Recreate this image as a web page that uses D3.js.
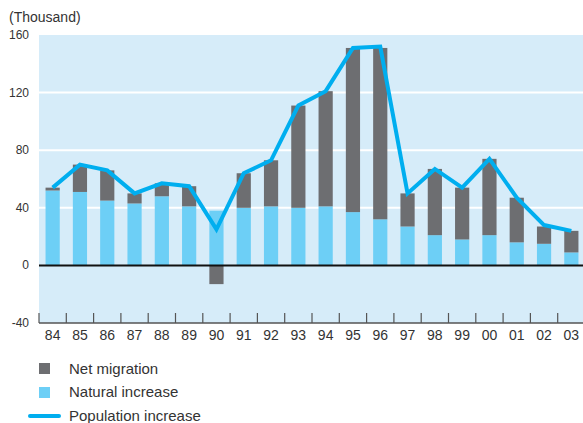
<!DOCTYPE html>
<html>
<head>
<meta charset="utf-8">
<script src="https://cdn.jsdelivr.net/npm/d3@7"></script>
<style>
  body { margin: 0; background: #fff; }
  svg { display: block; font-family: "Liberation Sans", Arial, sans-serif; }
</style>
</head>
<body>
<div id="chart"></div>
<script>
// data (thousand)
const years = ["84","85","86","87","88","89","90","91","92","93","94","95","96","97","98","99","00","01","02","03"];
const naturalIncrease = [52,51,45,43,48,41,38,40,41,40,41,37,32,27,21,18,21,16,15,9];
const netMigration = [2,19,21,7,9,14,-13,24,32,71,80,114,119,23,46,36,53,31,12,15];
const populationIncrease = [54,70,66,50,57,55,25,64,73,111,121,151,152,50,67,54,74,47,28,24];
const yTicks = [-40,0,40,80,120,160];

const width = 583, height = 423;
const svg = d3.select("#chart").append("svg").attr("width", width).attr("height", height);

const x = d3.scaleBand().domain(years).range([39, 585]).paddingInner(0.48).paddingOuter(0.24);
const y = d3.scaleLinear().domain([-40, 160]).range([323, 35]);

// background
svg.append("rect").attr("x", 39).attr("y", 35).attr("width", width - 39).attr("height", 288).attr("fill", "#d6ecf9");

// grid lines
svg.selectAll(".grid").data([40,80,120]).enter().append("line")
  .attr("x1", 39).attr("x2", width)
  .attr("y1", d => y(d)).attr("y2", d => y(d))
  .attr("stroke", "#fff").attr("stroke-width", 2);

// natural increase (light blue)
svg.selectAll(".nat").data(years).enter().append("rect")
  .attr("x", d => x(d)).attr("width", x.bandwidth())
  .attr("y", (d,i) => y(naturalIncrease[i]))
  .attr("height", (d,i) => y(0) - y(naturalIncrease[i]))
  .attr("fill", "#6dcff6");

// net migration (dark grey), stacked on top or below zero
svg.selectAll(".mig").data(years).enter().append("rect")
  .attr("x", d => x(d)).attr("width", x.bandwidth())
  .attr("y", (d,i) => netMigration[i] >= 0 ? y(naturalIncrease[i] + netMigration[i]) : y(0))
  .attr("height", (d,i) => netMigration[i] >= 0 ? y(naturalIncrease[i]) - y(naturalIncrease[i] + netMigration[i]) : y(netMigration[i]) - y(0))
  .attr("fill", "#6d6e71");

// zero line
svg.append("line").attr("x1", 39).attr("x2", width).attr("y1", y(0)).attr("y2", y(0))
  .attr("stroke", "#111").attr("stroke-width", 2);

// population increase line
const line = d3.line().x((d,i) => x(years[i]) + x.bandwidth() / 2).y(d => y(d));
svg.append("path").datum(populationIncrease)
  .attr("d", line).attr("fill", "none")
  .attr("stroke", "#00aeef").attr("stroke-width", 4).attr("stroke-linejoin", "miter");

// x axis
const step = x.step();
const bounds = years.map(d => x(d) - x.paddingInner() * step / 2);
svg.append("line").attr("x1", 39).attr("x2", width).attr("y1", 323).attr("y2", 323).attr("stroke", "#555").attr("stroke-width", 1.5);
svg.selectAll(".xtick").data(bounds).enter().append("line")
  .attr("x1", d => d).attr("x2", d => d).attr("y1", 313).attr("y2", 323)
  .attr("stroke", "#555").attr("stroke-width", 1.2);
svg.selectAll(".xlab").data(years).enter().append("text")
  .attr("x", d => x(d) + x.bandwidth() / 2).attr("y", 340)
  .attr("text-anchor", "middle").attr("font-size", 14).attr("fill", "#333")
  .text(d => d);

// y labels
svg.selectAll(".ylab").data(yTicks).enter().append("text")
  .attr("x", 29).attr("y", d => y(d) + 4)
  .attr("text-anchor", "end").attr("font-size", 12).attr("fill", "#333")
  .text(d => d);
svg.append("text").attr("x", 9).attr("y", 22).attr("font-size", 14).attr("fill", "#333").text("(Thousand)");

// legend
svg.append("rect").attr("x", 39).attr("y", 363).attr("width", 11).attr("height", 11).attr("fill", "#6d6e71");
svg.append("text").attr("x", 69).attr("y", 374).attr("font-size", 15).attr("fill", "#333").text("Net migration");
svg.append("rect").attr("x", 39).attr("y", 387).attr("width", 11).attr("height", 11).attr("fill", "#6dcff6");
svg.append("text").attr("x", 69).attr("y", 397).attr("font-size", 15).attr("fill", "#333").text("Natural increase");
svg.append("line").attr("x1", 30).attr("x2", 59).attr("y1", 416).attr("y2", 416)
  .attr("stroke", "#00aeef").attr("stroke-width", 4).attr("stroke-linecap", "round");
svg.append("text").attr("x", 69).attr("y", 421).attr("font-size", 15).attr("fill", "#333").text("Population increase");
</script>
</body>
</html>
